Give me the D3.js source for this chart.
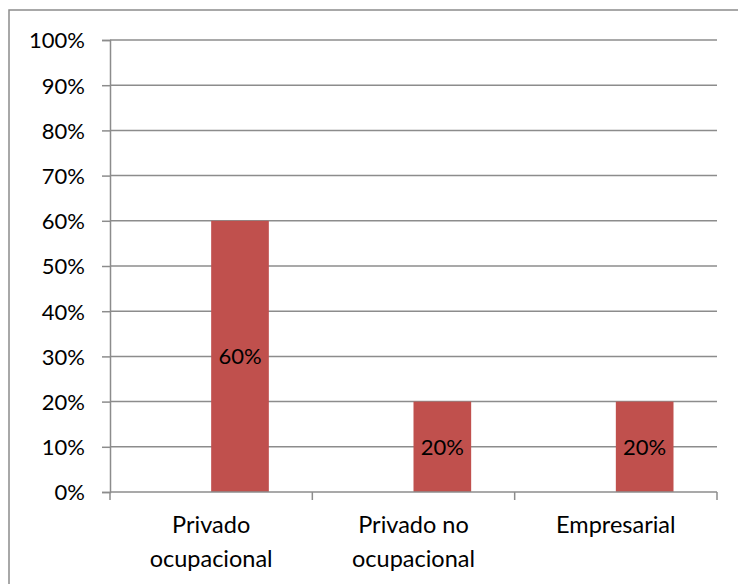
<!DOCTYPE html>
<html>
<head>
<meta charset="utf-8">
<script src="https://cdn.jsdelivr.net/npm/d3@7"></script>
<style>
  html, body { margin: 0; padding: 0; background: #fff; }
  svg text { font-family: Lato, "Open Sans", sans-serif; fill: #000; }
</style>
</head>
<body>
<svg id="chart" width="738" height="584"></svg>
<script>
// Share of each insurance type
const categories = [["Privado", "ocupacional"], ["Privado no", "ocupacional"], ["Empresarial"]];
const values = [0.60, 0.20, 0.20];
const yTicks = [0, 0.1, 0.2, 0.3, 0.4, 0.5, 0.6, 0.7, 0.8, 0.9, 1.0];

const svg = d3.select("#chart");
const plot = { left: 110, right: 717, top: 40, bottom: 492 };
const gridColor = "#8c8c8c";
const font = "Lato, 'Open Sans', sans-serif";

// outer frame
svg.append("rect")
  .attr("x", 9).attr("y", 10).attr("width", 760).attr("height", 600)
  .attr("fill", "none").attr("stroke", gridColor).attr("stroke-width", 1.5);

const y = d3.scaleLinear().domain([0, 1]).range([plot.bottom, plot.top]);
const x = d3.scaleBand().domain(categories.map((d, i) => i)).range([plot.left, plot.right]);

// horizontal gridlines
svg.append("g").selectAll("line").data(yTicks.slice(1)).join("line")
  .attr("x1", plot.left).attr("x2", plot.right)
  .attr("y1", d => y(d)).attr("y2", d => y(d))
  .attr("stroke", gridColor).attr("stroke-width", 1.5);

// y axis
const yAxis = d3.axisLeft(y).tickValues(yTicks).tickSize(8).tickPadding(17)
  .tickFormat(d3.format(".0%"));
const gy = svg.append("g").attr("transform", `translate(${plot.left},0)`).call(yAxis);
gy.select(".domain").attr("stroke", gridColor).attr("stroke-width", 1.5);
gy.selectAll(".tick line").attr("stroke", gridColor).attr("stroke-width", 1.5);
gy.selectAll(".tick text").attr("font-size", 22).attr("dy", "0.36em")
  .attr("font-family", font);

// bars sit in the right half of each category's cluster
const barW = x.bandwidth() * 0.285;
const barX = i => x(i) + x.bandwidth() / 2;
svg.append("g").selectAll("rect").data(values).join("rect")
  .attr("x", (d, i) => barX(i))
  .attr("y", d => y(d))
  .attr("width", barW)
  .attr("height", d => plot.bottom - y(d))
  .attr("fill", "#C0504D");

// value labels centred in bars
svg.append("g").selectAll("text").data(values).join("text")
  .attr("x", (d, i) => barX(i) + barW / 2)
  .attr("y", d => (y(d) + plot.bottom) / 2)
  .attr("dy", "0.36em")
  .attr("text-anchor", "middle")
  .attr("font-size", 22)
  .text(d => d3.format(".0%")(d));

// x axis line and category ticks
svg.append("line")
  .attr("x1", plot.left).attr("x2", plot.right).attr("y1", plot.bottom).attr("y2", plot.bottom)
  .attr("stroke", gridColor).attr("stroke-width", 1.5);
const edges = categories.map((d, i) => x(i)).concat([plot.right]);
svg.append("g").selectAll("line").data(edges).join("line")
  .attr("x1", d => d).attr("x2", d => d)
  .attr("y1", plot.bottom).attr("y2", plot.bottom + 8)
  .attr("stroke", gridColor).attr("stroke-width", 1.5);

// category labels
const catG = svg.append("g").selectAll("text").data(categories).join("text")
  .attr("text-anchor", "middle")
  .attr("font-size", 23.5)
  .attr("x", (d, i) => x(i) + x.bandwidth() / 2)
  .attr("y", 533);
catG.selectAll("tspan").data(d => d).join("tspan")
  .attr("x", function() { return d3.select(this.parentNode).attr("x"); })
  .attr("dy", (d, j) => j === 0 ? 0 : 34)
  .text(d => d);
</script>
</body>
</html>
